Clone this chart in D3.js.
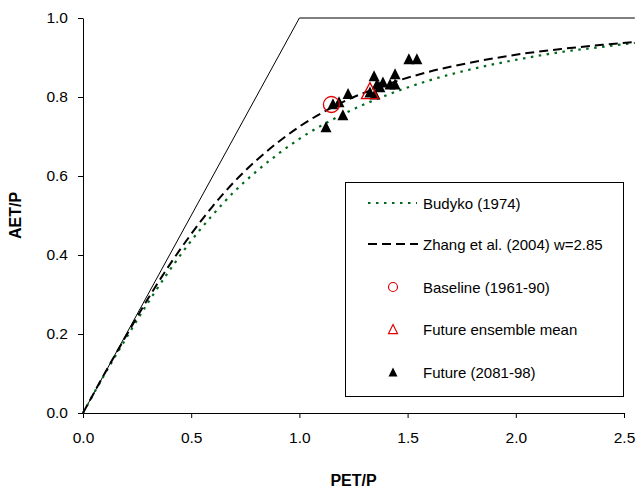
<!DOCTYPE html>
<html>
<head>
<meta charset="utf-8">
<script src="https://cdn.jsdelivr.net/npm/d3@7"></script>
<style>
  body { margin: 0; background: #fff; }
  svg { display: block; font-family: "Liberation Sans", Arial, sans-serif; }
</style>
</head>
<body>
<div id="chart"></div>
<script>
// Curves (PET/P -> AET/P)
const curveX = [0, 0.1, 0.2, 0.3, 0.4, 0.5, 0.6, 0.7, 0.8, 0.9, 1.0, 1.2, 1.4, 1.6, 1.8, 2.0, 2.2, 2.4, 2.55];
const budykoY = [0, 0.098, 0.190, 0.279, 0.361, 0.436, 0.502, 0.561, 0.611, 0.655, 0.694, 0.756, 0.804, 0.842, 0.871, 0.894, 0.913, 0.927, 0.937];
const zhangY = [0, 0.100, 0.196, 0.289, 0.375, 0.453, 0.524, 0.586, 0.639, 0.685, 0.725, 0.787, 0.831, 0.864, 0.888, 0.907, 0.921, 0.932, 0.939];

// Energy / water limit
const limitX = [0, 1, 2.55];
const limitY = [0, 1, 1];

// Future (2081-98) ensemble members
const futureX = [1.123, 1.155, 1.183, 1.225, 1.201, 1.326, 1.349, 1.345, 1.359, 1.372, 1.386, 1.419, 1.442, 1.442, 1.506, 1.543];
const futureY = [0.722, 0.780, 0.785, 0.806, 0.752, 0.810, 0.805, 0.851, 0.830, 0.823, 0.835, 0.830, 0.856, 0.830, 0.894, 0.894];

const baseline = [1.148, 0.781];
const ensembleMean = [1.326, 0.812];

const xTicks = [0, 0.5, 1.0, 1.5, 2.0, 2.5];
const yTicks = [0, 0.2, 0.4, 0.6, 0.8, 1.0];

const legendLabels = ["Budyko (1974)", "Zhang et al. (2004) w=2.85", "Baseline (1961-90)", "Future ensemble mean", "Future (2081-98)"];

const W = 637, H = 490;
const svg = d3.select("#chart").append("svg").attr("width", W).attr("height", H);

const x = d3.scaleLinear().domain([0, 2.5]).range([83, 624]);
const y = d3.scaleLinear().domain([0, 1]).range([413, 18]);

// ── Axes ──
const xAxis = svg.append("g")
  .attr("transform", `translate(0,${y(0)})`)
  .call(d3.axisBottom(x).tickValues(xTicks).tickFormat(d3.format(".1f")).tickSize(5).tickSizeOuter(0).tickPadding(14));
const yAxis = svg.append("g")
  .attr("transform", `translate(${x(0)},0)`)
  .call(d3.axisLeft(y).tickValues(yTicks).tickFormat(d3.format(".1f")).tickSize(5).tickSizeOuter(0).tickPadding(10));
[xAxis, yAxis].forEach(a => {
  a.select(".domain").attr("stroke", "#000").attr("stroke-width", 1);
  a.selectAll(".tick line").attr("stroke", "#000");
  a.selectAll(".tick text").attr("font-size", 15.5).attr("fill", "#000")
    .attr("font-family", "Liberation Sans, Arial, sans-serif");
});

svg.append("text")
  .attr("x", x(1.25)).attr("y", 486)
  .attr("text-anchor", "middle")
  .attr("font-size", 16).attr("font-weight", "bold")
  .text("PET/P");
svg.append("text")
  .attr("transform", `translate(21,${y(0.5)}) rotate(-90)`)
  .attr("text-anchor", "middle")
  .attr("font-size", 16).attr("font-weight", "bold")
  .text("AET/P");

// ── Lines ──
const line = d3.line().x(d => x(d[0])).y(d => y(d[1]));

svg.append("path")
  .attr("d", line(limitX.map((v, i) => [v, limitY[i]])))
  .attr("fill", "none").attr("stroke", "#000").attr("stroke-width", 1);

const curve = d3.line().curve(d3.curveMonotoneX).x(d => x(d[0])).y(d => y(d[1]));
svg.append("path")
  .attr("d", curve(curveX.map((v, i) => [v, budykoY[i]])))
  .attr("fill", "none").attr("stroke", "#006a1a").attr("stroke-width", 2.2)
  .attr("stroke-dasharray", "2.5,5.5");
svg.append("path")
  .attr("d", curve(curveX.map((v, i) => [v, zhangY[i]])))
  .attr("fill", "none").attr("stroke", "#000").attr("stroke-width", 2)
  .attr("stroke-dasharray", "9,5");

// ── Markers ──
function tri(cx, cy, w, h) {
  return `M${cx},${cy - h * 0.6}L${cx + w / 2},${cy + h * 0.4}L${cx - w / 2},${cy + h * 0.4}Z`;
}

svg.append("g").selectAll("path")
  .data(futureX.map((v, i) => [v, futureY[i]]))
  .join("path")
  .attr("d", d => tri(x(d[0]), y(d[1]), 11, 11))
  .attr("fill", "#000");

svg.append("circle")
  .attr("cx", x(baseline[0])).attr("cy", y(baseline[1]))
  .attr("r", 8).attr("fill", "none").attr("stroke", "#e00000").attr("stroke-width", 1.3);
svg.append("path")
  .attr("d", tri(x(ensembleMean[0]), y(ensembleMean[1]), 17, 16))
  .attr("fill", "none").attr("stroke", "#e00000").attr("stroke-width", 1.3);

// ── Legend ──
const lg = svg.append("g");
lg.append("rect")
  .attr("x", 345.5).attr("y", 182.5).attr("width", 278).attr("height", 214)
  .attr("fill", "#fff").attr("stroke", "#000").attr("stroke-width", 1);
const rowY = [203, 244, 287, 329, 372];
lg.selectAll("text").data(legendLabels).join("text")
  .attr("x", 423).attr("y", (d, i) => rowY[i] + 5.5)
  .attr("font-size", 15).attr("fill", "#000")
  .text(d => d);
lg.append("line").attr("x1", 368).attr("x2", 417).attr("y1", rowY[0]).attr("y2", rowY[0])
  .attr("stroke", "#006a1a").attr("stroke-width", 2.2).attr("stroke-dasharray", "2.5,5.5");
lg.append("line").attr("x1", 368).attr("x2", 418).attr("y1", rowY[1]).attr("y2", rowY[1])
  .attr("stroke", "#000").attr("stroke-width", 2).attr("stroke-dasharray", "9,5");
lg.append("circle").attr("cx", 393).attr("cy", rowY[2]).attr("r", 4.5)
  .attr("fill", "none").attr("stroke", "#e00000").attr("stroke-width", 1.2);
lg.append("path").attr("d", tri(393, rowY[3] + 1, 9, 9))
  .attr("fill", "none").attr("stroke", "#e00000").attr("stroke-width", 1.2);
lg.append("path").attr("d", tri(393, rowY[4] + 1, 9, 9))
  .attr("fill", "#000");
</script>
</body>
</html>
